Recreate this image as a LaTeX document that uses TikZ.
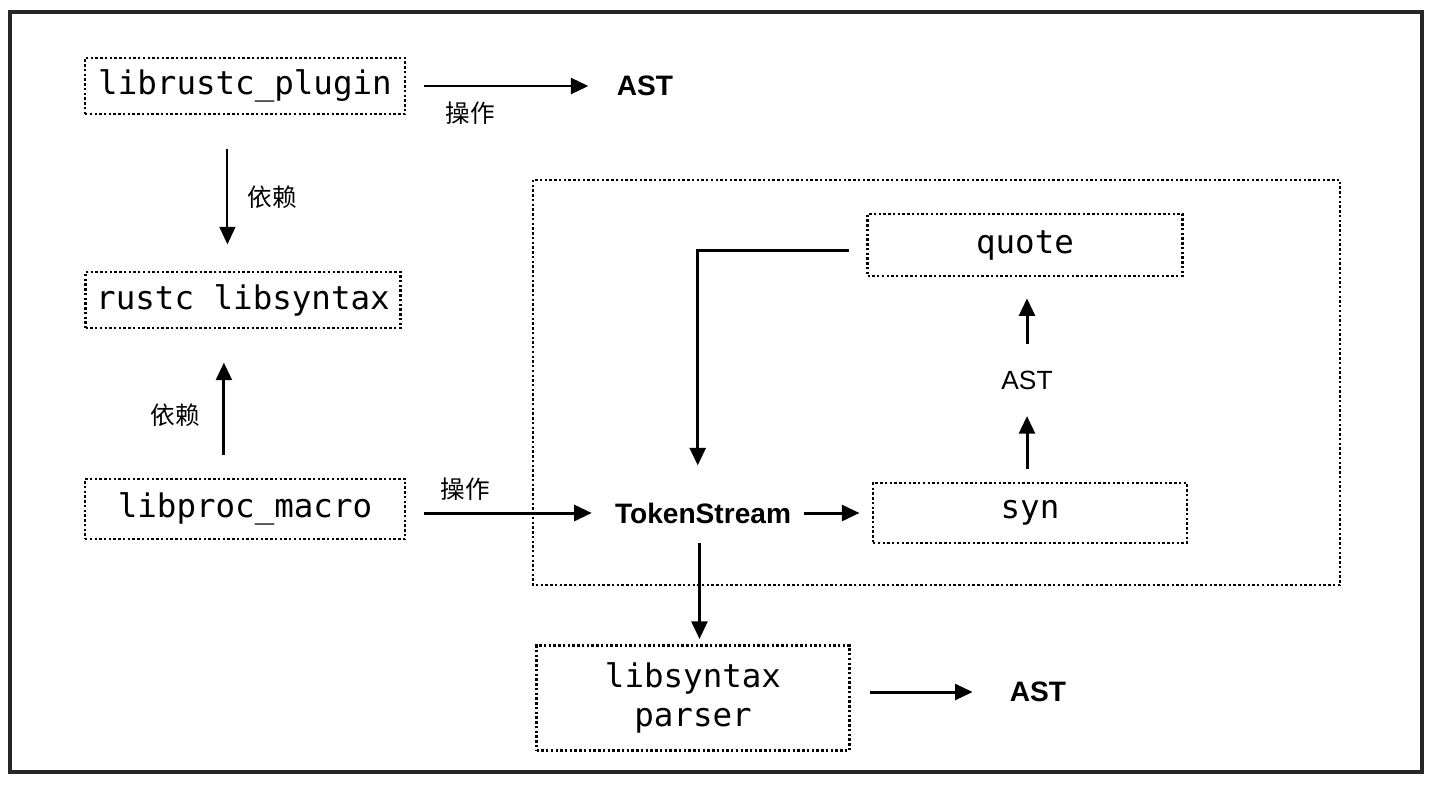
\documentclass[tikz,border=0pt]{standalone}
\usepackage{fontspec}
\setmonofont{DejaVu Sans Mono}
\setsansfont{Liberation Sans}
\newfontfamily\cjk{Noto Sans CJK SC}
\usetikzlibrary{arrows.meta}
\begin{document}
\begin{tikzpicture}[x=0.02cm,y=-0.02cm,
    dots/.style={line width=1.4pt,dash pattern=on 1.4pt off 1.3pt},
    box/.style={draw,dots,inner sep=0pt,align=center,
      font=\ttfamily\fontsize{18.5}{22}\selectfont},
    lab/.style={inner sep=0pt,font=\sffamily\bfseries\fontsize{16}{19}\selectfont},
    zh/.style={inner sep=0pt,font=\cjk\fontsize{14}{17}\selectfont},
    arr/.style={line width=1.7pt,-{Triangle[length=10pt,width=9pt]}}]
  \useasboundingbox (0,0) rectangle (1434,785);
  \draw[line width=2pt,black!85] (10,12) rectangle (1422,772);
  \draw[dots] (533,180) rectangle (1340,585);
  \draw
    (245,86) node[box,minimum width=6.4cm,minimum height=1.12cm] (plugin){librustc\_plugin}
    (243,300) node[box,minimum width=6.3cm,minimum height=1.12cm] (rsl){rustc libsyntax}
    (245,509) node[box,minimum width=6.4cm,minimum height=1.2cm] (procmacro){libproc\_macro}
    (1025,245) node[box,minimum width=6.3cm,minimum height=1.24cm] (quote){quote}
    (1030,513) node[box,minimum width=6.28cm,minimum height=1.2cm] (syn){syn}
    (693,698) node[box,minimum width=6.26cm,minimum height=2.1cm] (lsp){libsyntax\\parser}
    (645,86) node[lab] (ast1){AST}
    (703,513) node[lab] (ts){TokenStream}
    (1027,380) node[lab,font=\sffamily\fontsize{15}{18}\selectfont] (astm){AST}
    (1038,692) node[lab] (ast3){AST}
    (470,113) node[zh] (op1){操作}
    (465,489) node[zh] (op2){操作}
    (272,197) node[zh] (dep1){依赖}
    (175,415) node[zh] (dep2){依赖};
  \begin{scope}[arr]
    \draw[shorten <=10pt,shorten >=16pt] (plugin) to (ast1);
    \draw[line width=1.2pt,shorten <=19pt,shorten >=15pt] ([xshift=-10pt]plugin.south) to ([xshift=-10pt]plugin.south |- rsl.north);
    \draw[shorten <=13pt,shorten >=19pt] ([xshift=-12pt]procmacro.north) to ([xshift=-12pt]procmacro.north |- rsl.south);
    \draw[shorten <=10pt,shorten >=13pt] (procmacro.east |- ts) to (ts);
    \draw[shorten <=7pt,shorten >=7pt] (ts) to (ts -| syn.west);
    \draw[shorten <=7pt,shorten >=15pt] (syn.north -| astm) to (astm);
    \draw[shorten <=15pt,shorten >=12pt] (astm) to (quote.south -| astm);
    \draw[shorten <=10pt,shorten >=21pt] ([yshift=-3pt]quote.west) -| ([xshift=-3pt]ts.north);
    \draw[shorten <=11pt,shorten >=3pt] ([xshift=-2pt]ts.south) to ([xshift=-2pt]ts.south |- lsp.north);
    \draw[shorten <=11pt,shorten >=21pt] (lsp.east |- ast3) to (ast3);
  \end{scope}
\end{tikzpicture}
\end{document}
